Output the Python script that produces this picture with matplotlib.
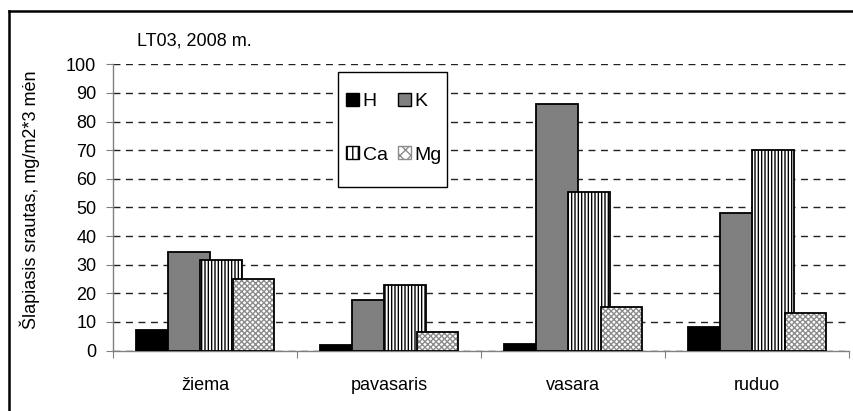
import matplotlib
matplotlib.use("Agg")
import matplotlib.pyplot as plt
from matplotlib.lines import Line2D
from matplotlib.patches import Patch, Rectangle
import numpy as np

plt.rcParams['font.family'] = ['Liberation Sans', 'DejaVu Sans']
plt.rcParams['font.size'] = 13

# seasonal wet deposition, LT03 station, 2008
seasons = ['žiema', 'pavasaris', 'vasara', 'ruduo']
ions = ['H', 'K', 'Ca', 'Mg']
h_vals = [7.3, 1.8, 2.3, 8.2]
k_vals = [34.5, 17.5, 86.0, 48.0]
ca_vals = [31.6, 23.0, 55.5, 70.0]
mg_vals = [25.0, 6.5, 15.2, 13.2]
series = [h_vals, k_vals, ca_vals, mg_vals]

W, H = 854, 411
fig = plt.figure(figsize=(W / 100, H / 100), dpi=100)
ax = fig.add_axes([113/W, 1 - 350.5/H, (849 - 113)/W, (350.5 - 64.3)/H])

# outer chart frame (only left and top edges fall inside the image)
fig.add_artist(Line2D([9/W, 9/W], [0, 1 - 11.5/H], color='black', lw=1.8, transform=fig.transFigure))
fig.add_artist(Line2D([9/W, 1], [1 - 11.5/H, 1 - 11.5/H], color='black', lw=1.8, transform=fig.transFigure))

x = np.arange(len(seasons)) + 0.5
step = 0.174
width = 0.223

styles = [
    dict(face='black', hatch=None, hatch_col=None),
    dict(face='#808080', hatch=None, hatch_col=None),
    dict(face='white', hatch='|||||', hatch_col='black'),
    dict(face='white', hatch='xxxxxx', hatch_col='#8c8c8c'),
]

for i, (vals, st) in enumerate(zip(series, styles)):
    pos = x + (i - 1.5) * step
    if st['hatch']:
        ax.bar(pos, vals, width, color=st['face'], edgecolor=st['hatch_col'],
               hatch=st['hatch'], linewidth=0, zorder=3 + i)
        ax.bar(pos, vals, width, color='none', edgecolor='black', linewidth=1.3, zorder=3 + i)
    else:
        ax.bar(pos, vals, width, color=st['face'], edgecolor='black', linewidth=1.3, zorder=3 + i)

ax.set_xlim(0, 4)
ax.set_ylim(0, 100)
ax.set_yticks(np.arange(0, 101, 10))
ax.yaxis.grid(True, color='#222222', linestyle=(0, (5, 4)), linewidth=1)
ax.set_axisbelow(True)

ax.set_xticks(np.arange(0, 5))
ax.set_xticklabels([])
ax.set_xticks(x, minor=True)
ax.set_xticklabels(seasons, minor=True)
ax.tick_params(axis='x', which='major', direction='out', length=5, color='#808080')
ax.tick_params(axis='x', which='minor', length=0, pad=19)
ax.tick_params(axis='y', direction='out', length=5, color='#808080', pad=7)

for side in ['top', 'right']:
    ax.spines[side].set_visible(False)
for side in ['left', 'bottom']:
    ax.spines[side].set_color('#808080')
    ax.spines[side].set_linewidth(1)

fig.text(137/W, 1 - 41/H, 'LT03, 2008 m.', ha='left', va='center')
fig.text(30/W, 1 - 200/H, 'Šlapiasis srautas, mg/m2*3 mėn', rotation=90, ha='center', va='center')

handles = {}
for name, st in zip(ions, styles):
    if st['hatch']:
        handles[name] = Patch(facecolor='white', edgecolor=st['hatch_col'], hatch=st['hatch'][:3], label=name)
    else:
        handles[name] = Patch(facecolor=st['face'], edgecolor='black', label=name)

# legend box drawn separately so its padding can differ per side
box = Rectangle((338/W, 1 - 187/H), (447 - 338)/W, (187 - 72)/H, transform=fig.transFigure,
                facecolor='white', edgecolor='black', linewidth=1, zorder=9)
fig.add_artist(box)

# legend fills column by column, so order gives rows H K / Ca Mg
leg = fig.legend(handles=[handles['H'], handles['Ca'], handles['K'], handles['Mg']],
                 ncol=2, loc='upper left',
                 bbox_to_anchor=(346/W, 1 - 93/H), bbox_transform=fig.transFigure,
                 frameon=False, handlelength=0.65, handleheight=0.65, handletextpad=0.2,
                 columnspacing=0.55, labelspacing=1.85, borderpad=0, borderaxespad=0,
                 fontsize=14)
leg.set_zorder(10)

fig.savefig('out.png', dpi=100)
